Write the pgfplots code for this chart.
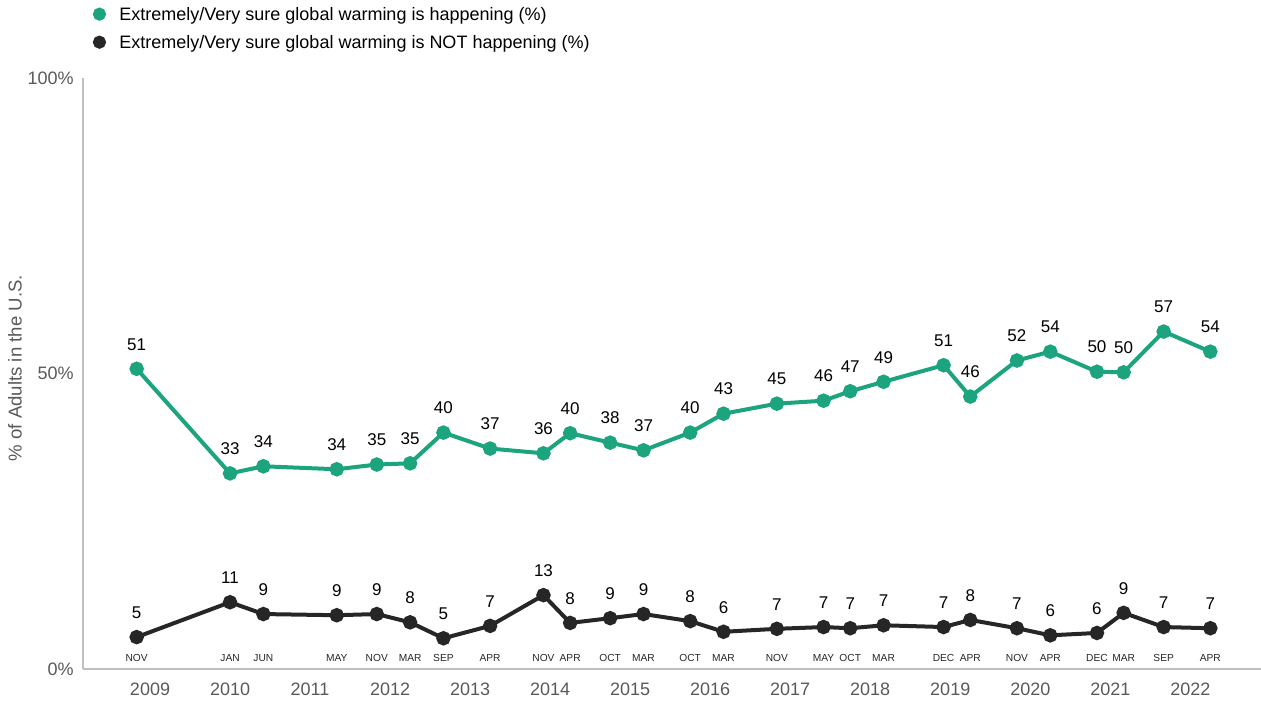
\documentclass[border=0pt]{standalone}
\usepackage{fontspec}
\setmainfont{Liberation Sans}
\usepackage{pgfplots}
\pgfplotsset{compat=1.18}
\definecolor{sure}{RGB}{27,164,126}
\definecolor{notsure}{RGB}{38,38,38}
\definecolor{axisgray}{RGB}{191,191,191}
\definecolor{labgray}{RGB}{89,89,89}

\begin{document}
\begin{tikzpicture}
\path[use as bounding box] (0pt,0pt) rectangle (630.5pt,-351pt);
\begin{axis}[
  at={(41.5pt,-334.5pt)}, anchor=south west,
  scale only axis, width=589pt, height=295.5pt,
  xmin=-22.05, xmax=154.6, ymin=0, ymax=100,
  clip=false,
  axis x line*=bottom, axis y line*=left,
  axis line style={axisgray, line width=0.9pt},
  x axis line style={-}, y axis line style={-},
  major tick length=0pt,
  xtick={-12,0,12,24,36,48,60,72,84,96,108,120,132,144},
  xticklabels={2009,2010,2011,2012,2013,2014,2015,2016,2017,2018,2019,2020,2021,2022},
  ytick={0,50,100},
  yticklabels={0\%,50\%,100\%},
  tick label style={font=\fontsize{9}{11}\selectfont, text=labgray},
  xticklabel style={inner sep=0pt, yshift=-7pt},
  yticklabel style={inner sep=0pt, xshift=-4.5pt},
  ylabel={\% of Adults in the U.S.},
  ylabel style={at={(axis description cs:-0.0577,0.509)}, anchor=center,
    font=\fontsize{9.3}{11}\selectfont, text=labgray},
  legend style={at={(axis description cs:0.0081,1.123)}, anchor=north west,
    draw=none, fill=none, font=\fontsize{9}{10.5}\selectfont,
    inner sep=0pt, row sep=4pt, nodes={inner sep=1pt},
    /tikz/every odd column/.append style={column sep=5.75pt}},
  legend cell align=left,
  legend image code/.code={\fill[#1] (0pt,0.8pt) circle (2.25pt);},
  every node near coord/.append style={anchor=south, inner sep=0pt, yshift=8.3pt,
    font=\fontsize{8.5}{10}\selectfont, text=black},
]
\addplot[color=sure, line width=2pt, mark=*, mark size=2.6pt,
  nodes near coords, point meta=explicit symbolic] coordinates {
  (-14,50.8)[51] (0,33.1)[33] (5,34.3)[34] (16,33.8)[34] (22,34.6)[35]
  (27,34.8)[35] (32,40.0)[40] (39,37.3)[37] (47,36.5)[36] (51,39.9)[40]
  (57,38.3)[38] (62,37.0)[37] (69,40.0)[40] (74,43.2)[43] (82,44.9)[45]
  (89,45.4)[46] (93,47.0)[47] (98,48.6)[49] (107,51.4)[51] (111,46.1)[46]
  (118,52.2)[52] (123,53.7)[54] (130,50.3)[50] (134,50.2)[50] (140,57.1)[57]
  (147,53.7)[54]};
\addlegendentry{Extremely/Very sure global warming is happening (\%)}
\addplot[color=notsure, line width=2pt, mark=*, mark size=2.6pt,
  nodes near coords, point meta=explicit symbolic] coordinates {
  (-14,5.4)[5] (0,11.3)[11] (5,9.3)[9] (16,9.1)[9] (22,9.3)[9]
  (27,7.9)[8] (32,5.2)[5] (39,7.3)[7] (47,12.5)[13] (51,7.8)[8]
  (57,8.6)[9] (62,9.3)[9] (69,8.1)[8] (74,6.3)[6] (82,6.8)[7]
  (89,7.1)[7] (93,6.9)[7] (98,7.4)[7] (107,7.1)[7] (111,8.3)[8]
  (118,6.9)[7] (123,5.7)[6] (130,6.1)[6] (134,9.5)[9] (140,7.1)[7]
  (147,6.9)[7]};
\addlegendentry{Extremely/Very sure global warming is NOT happening (\%)}
% month labels above the x axis
\addplot[draw=none, mark=none, nodes near coords, point meta=explicit symbolic,
  every node near coord/.append style={yshift=-4.6pt, font=\fontsize{5.1}{6}\selectfont, text=notsure},
  forget plot] coordinates {
  (-14,0)[NOV] (0,0)[JAN] (5,0)[JUN] (16,0)[MAY] (22,0)[NOV]
  (27,0)[MAR] (32,0)[SEP] (39,0)[APR] (47,0)[NOV] (51,0)[APR]
  (57,0)[OCT] (62,0)[MAR] (69,0)[OCT] (74,0)[MAR] (82,0)[NOV]
  (89,0)[MAY] (93,0)[OCT] (98,0)[MAR] (107,0)[DEC] (111,0)[APR]
  (118,0)[NOV] (123,0)[APR] (130,0)[DEC] (134,0)[MAR] (140,0)[SEP]
  (147,0)[APR]};
\end{axis}
\end{tikzpicture}
\end{document}
